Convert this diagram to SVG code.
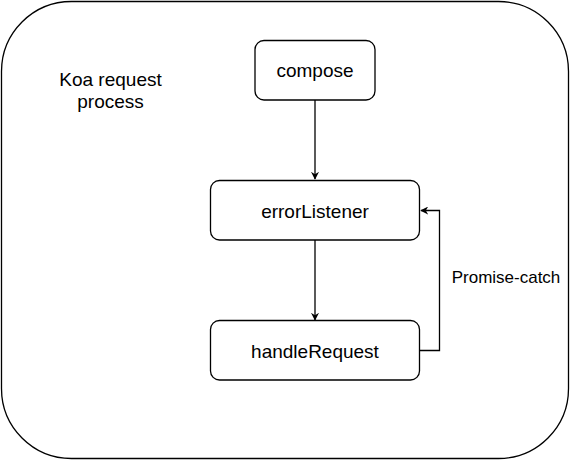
<svg xmlns="http://www.w3.org/2000/svg" width="571" height="461" viewBox="0 0 571 461">
<defs>
<style>
.frame{fill:#fff;stroke:#000;stroke-width:1.3}
.node{fill:#fff;stroke:#000;stroke-width:1.3}
.lbl{font-family:"Liberation Sans",Arial,sans-serif;font-size:19px;fill:#000;text-anchor:middle}
.small{font-size:17px}
.edge{fill:none;stroke:#000;stroke-width:1.3}
</style>
<marker id="arr" viewBox="0 0 10 10" refX="9" refY="5" markerWidth="8" markerHeight="8" markerUnits="userSpaceOnUse" orient="auto">
<path d="M0,0 L10,5 L0,10 L3,5 Z" fill="#000"/>
</marker>
</defs>
<rect width="571" height="461" fill="#fff"/>
<g id="frame">
<rect class="frame" x="1.5" y="1.5" width="567" height="457" rx="70" ry="70"/>
<text class="lbl" x="110.5" y="86">Koa request</text>
<text class="lbl" x="110.5" y="108">process</text>
</g>
<g id="connectors">
<path class="edge" d="M315,100 L315,179" marker-end="url(#arr)"/>
<path class="edge" d="M315,240 L315,320" marker-end="url(#arr)"/>
<path class="edge" d="M419.5,350.5 L439.5,350.5 L439.5,210.5 L421,210.5" marker-end="url(#arr)"/>
<text class="lbl small" x="506" y="283">Promise-catch</text>
</g>
<g id="compose">
<rect class="node" x="255" y="40.5" width="120" height="59.5" rx="9" ry="9"/>
<text class="lbl" x="315" y="77">compose</text>
</g>
<g id="errorListener">
<rect class="node" x="210.5" y="180.5" width="209" height="59.5" rx="9" ry="9"/>
<text class="lbl" x="315" y="217.5">errorListener</text>
</g>
<g id="handleRequest">
<rect class="node" x="210.5" y="320.5" width="209" height="59.5" rx="9" ry="9"/>
<text class="lbl" x="315" y="357.5">handleRequest</text>
</g>
</svg>
